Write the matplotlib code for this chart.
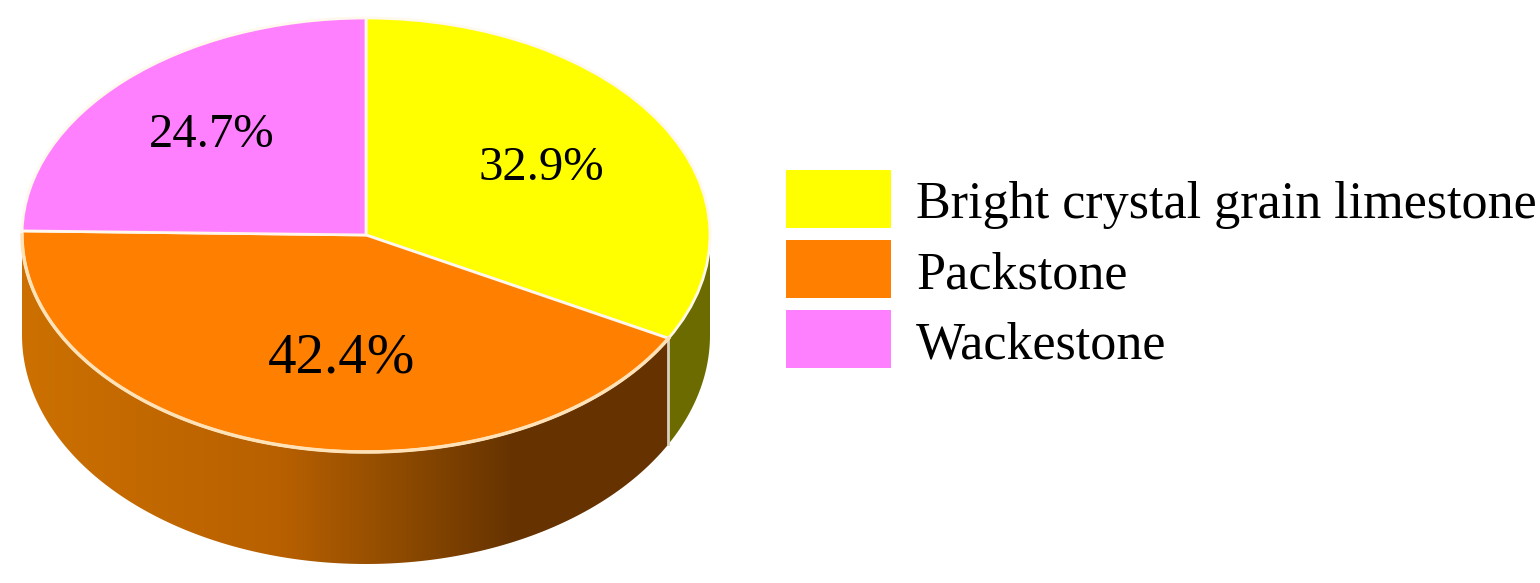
import numpy as np
import matplotlib
matplotlib.use('Agg')
import matplotlib.pyplot as plt
from matplotlib.colors import LinearSegmentedColormap
from matplotlib.patches import Polygon

categories = ['Bright crystal grain limestone', 'Packstone', 'Wackestone']
values = [32.9, 42.4, 24.7]
colors = ['#FFFF00', '#FF8000', '#FF80FF']

# sizes in pixels of the reference
W, H = 1540, 583
cx, cy, rx, ry = 366, 235, 344, 217
depth = 100 / ry
low_ry = 229 / ry

plt.rcParams['font.family'] = ['Liberation Serif', 'DejaVu Serif']

fig = plt.figure(figsize=(W / 100, H / 100), dpi=100)
ax = fig.add_axes([0, 0, 1, 1])

wedges, _ = ax.pie(values, colors=colors, startangle=90, counterclock=False, radius=1,
                   wedgeprops={'edgecolor': '#FFF8EC', 'linewidth': 2, 'zorder': 5})
ax.set_aspect('auto')
xlim = (-cx / rx, (W - cx) / rx)
ylim = ((cy - H) / ry, cy / ry)


# side wall of the disc between two angles (degrees)
def side(a, b):
    t = np.radians(np.linspace(a, b, 200))
    top = np.column_stack([np.cos(t), np.sin(t)])
    low = np.column_stack([np.cos(t), np.sin(t) * low_ry - depth])[::-1]
    return np.vstack([top, low])


# angles of slice edges
edges = 90 - np.cumsum([0] + values) * 3.6
cut = edges[1]

# yellow slice wall
ax.add_patch(Polygon(side(0, cut), closed=True, facecolor='#6B6B00', edgecolor='none', zorder=2))

# orange slice wall with gradient
grad = LinearSegmentedColormap.from_list('wall', [(0, '#CC7000'), (0.40, '#B86000'), (0.58, '#8F4B00'),
                                                  (0.76, '#663300'), (1, '#663300')])
wall = Polygon(side(cut, -180), closed=True, facecolor='none', edgecolor='none', zorder=2)
ax.add_patch(wall)
im = ax.imshow(np.linspace(0, 1, 256).reshape(1, -1), cmap=grad, aspect='auto', zorder=2,
               extent=(-1, np.cos(np.radians(cut)), -1.2 - depth, 0))
im.set_clip_path(wall)

# pale seam where the two walls meet
sx, sy = np.cos(np.radians(cut)), np.sin(np.radians(cut))
ax.plot([sx, sx], [sy, sy * low_ry - depth], color='#D8D0C0', lw=2, zorder=3)

# cream rim along the front of the top face
t = np.radians(np.linspace(cut, -180, 200))
ax.plot(np.cos(t), np.sin(t), color='#FFE2B8', lw=2.5, zorder=5.5)

ax.set_xlim(xlim)
ax.set_ylim(ylim)
ax.axis('off')

# value labels, anchored along each slice
label_pos = [(0.51, 0.31), (-0.07, -0.57), (-0.45, 0.46)]
label_size = [35, 41, 35]
for v, p, s in zip(values, label_pos, label_size):
    ax.text(p[0], p[1], '%.1f%%' % v, fontsize=s, ha='center', va='center', color='black', zorder=6)

fs = 37.5
leg = ax.legend(wedges, categories, loc='upper left', bbox_to_anchor=(786 / W, 1 - 170 / H),
                bbox_transform=fig.transFigure, frameon=False, fontsize=fs, borderpad=0, borderaxespad=0,
                handlelength=105 * 0.72 / fs, handleheight=1.336, handletextpad=0.48,
                labelspacing=0.23)
for h in leg.legend_handles:
    h.set_edgecolor('none')
# legend text sits a little lower in the reference
for txt in leg.get_texts():
    txt.set_position((0, -2))

fig.savefig('out.png', dpi=100)
